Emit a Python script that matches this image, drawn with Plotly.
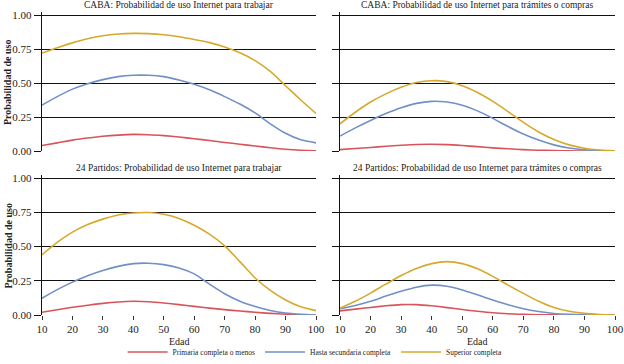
import plotly.graph_objects as go

edad = [10, 15, 20, 25, 30, 35, 40, 45, 50, 55, 60, 65, 70, 75, 80, 85, 90, 95, 100]

series_names = ["Primaria completa o menos", "Hasta secundaria completa", "Superior completa"]
series_colors = ["#d9545a", "#7090c6", "#d6a92c"]

panel_titles = [
    "CABA: Probabilidad de uso Internet para trabajar",
    "CABA: Probabilidad de uso Internet para trámites o compras",
    "24 Partidos: Probabilidad de uso Internet para trabajar",
    "24 Partidos: Probabilidad de uso Internet para trámites o compras",
]

# CABA trabajar
caba_trab_prim = [0.04, 0.06, 0.08, 0.095, 0.108, 0.117, 0.122, 0.12, 0.113, 0.103,
                  0.09, 0.077, 0.063, 0.05, 0.037, 0.024, 0.013, 0.006, 0.002]
caba_trab_sec = [0.337, 0.40, 0.455, 0.495, 0.525, 0.547, 0.557, 0.557, 0.547, 0.522,
                 0.49, 0.45, 0.40, 0.345, 0.28, 0.20, 0.13, 0.082, 0.06]
caba_trab_sup = [0.72, 0.76, 0.795, 0.825, 0.847, 0.86, 0.865, 0.863, 0.855, 0.84,
                 0.82, 0.797, 0.765, 0.722, 0.665, 0.585, 0.48, 0.375, 0.276]

# CABA trámites
caba_tram_prim = [0.01, 0.018, 0.026, 0.035, 0.042, 0.048, 0.05, 0.047, 0.04, 0.032,
                  0.023, 0.016, 0.01, 0.006, 0.003, 0.001, 0.0, 0.0, 0.0]
caba_tram_sec = [0.11, 0.17, 0.225, 0.275, 0.318, 0.35, 0.365, 0.36, 0.337, 0.295,
                 0.24, 0.18, 0.125, 0.08, 0.045, 0.022, 0.009, 0.003, 0.001]
caba_tram_sup = [0.20, 0.285, 0.36, 0.42, 0.468, 0.503, 0.517, 0.51, 0.48, 0.43,
                 0.365, 0.29, 0.21, 0.14, 0.085, 0.045, 0.02, 0.007, 0.002]

# 24 Partidos trabajar
gba_trab_prim = [0.02, 0.038, 0.056, 0.071, 0.085, 0.095, 0.10, 0.097, 0.088, 0.076,
                 0.063, 0.05, 0.039, 0.029, 0.02, 0.012, 0.006, 0.002, 0.0]
gba_trab_sec = [0.122, 0.185, 0.24, 0.287, 0.325, 0.355, 0.375, 0.378, 0.368, 0.343,
                0.30, 0.225, 0.155, 0.10, 0.062, 0.033, 0.014, 0.005, 0.0]
gba_trab_sup = [0.44, 0.53, 0.605, 0.66, 0.70, 0.73, 0.745, 0.748, 0.735, 0.705,
                0.655, 0.59, 0.505, 0.39, 0.27, 0.18, 0.11, 0.06, 0.032]

# 24 Partidos trámites
gba_tram_prim = [0.03, 0.043, 0.055, 0.067, 0.076, 0.076, 0.067, 0.054, 0.04, 0.027,
                 0.016, 0.009, 0.005, 0.002, 0.001, 0.0, 0.0, 0.0, 0.0]
gba_tram_sec = [0.045, 0.07, 0.10, 0.138, 0.173, 0.203, 0.218, 0.21, 0.183, 0.147,
                0.11, 0.075, 0.046, 0.025, 0.011, 0.005, 0.002, 0.0, 0.0]
gba_tram_sup = [0.05, 0.10, 0.16, 0.225, 0.288, 0.34, 0.375, 0.39, 0.375, 0.337,
                0.282, 0.218, 0.158, 0.10, 0.055, 0.027, 0.012, 0.004, 0.0]

panels = [
    [caba_trab_prim, caba_trab_sec, caba_trab_sup],
    [caba_tram_prim, caba_tram_sec, caba_tram_sup],
    [gba_trab_prim, gba_trab_sec, gba_trab_sup],
    [gba_tram_prim, gba_tram_sec, gba_tram_sup],
]

y_ticks = [0, 0.25, 0.5, 0.75, 1.0]
y_ticklabels = ["0.00", "0.25", "0.50", "0.75", "1.00"]
x_ticks = [10, 20, 30, 40, 50, 60, 70, 80, 90, 100]
x_title = "Edad"
y_title = "Probabilidad de uso"

W, H = 624, 364
FONT = "Liberation Serif, Times New Roman, DejaVu Serif, serif"

# pixel layout
xdoms = [(42, 316), (340, 615)]
ydoms = [(11.6, 151), (174.6, 315)]  # top px, bottom px


def xd(a, b):
    return [a / W, b / W]


def yd(top, bot):
    return [1 - bot / H, 1 - top / H]


fig = go.Figure()
for i, pdata in enumerate(panels):
    r, c = divmod(i, 2)
    ax = "" if i == 0 else str(i + 1)
    for k, vals in enumerate(pdata):
        fig.add_trace(go.Scatter(
            x=edad, y=vals, mode="lines",
            line=dict(color=series_colors[k], width=1.6, shape="spline", smoothing=0.7),
            name=series_names[k], showlegend=(i == 0),
            xaxis="x" + ax, yaxis="y" + ax,
        ))
    xa = dict(domain=xd(*xdoms[c]), range=[10, 100], anchor="y" + ax,
              showgrid=False, zeroline=False, showline=False, automargin=False,
              tickvals=x_ticks, showticklabels=(r == 1),
              tickfont=dict(family=FONT, size=11, color="#222"),
              ticks=("outside" if r == 1 else ""), ticklen=4, tickwidth=1, tickcolor="#333")
    ya = dict(domain=yd(*ydoms[r]), range=[0, 1.025], anchor="x" + ax,
              showgrid=True, gridcolor="#111", gridwidth=1.4, zeroline=False,
              showline=True, linecolor="#111", linewidth=1.4, automargin=False,
              tickvals=y_ticks, ticktext=y_ticklabels, ticks="outside", ticklen=7,
              tickcolor="#111", tickwidth=1.4,
              showticklabels=(c == 0),
              tickfont=dict(family=FONT, size=11, color="#222"))
    fig.layout["xaxis" + ax] = xa
    fig.layout["yaxis" + ax] = ya
    cx = (xdoms[c][0] + xdoms[c][1]) / 2 / W
    ty = 1 - (5 if r == 0 else 168) / H
    fig.add_annotation(text=panel_titles[i], x=cx, y=ty, xref="paper", yref="paper",
                       xanchor="center", yanchor="middle", showarrow=False,
                       font=dict(family=FONT, size=9.5, color="#222"))
    if r == 1:
        fig.add_annotation(text=x_title, x=cx, y=1 - 341 / H, xref="paper", yref="paper",
                           xanchor="center", yanchor="middle", showarrow=False,
                           font=dict(family=FONT, size=10, color="#222"))
    if c == 0:
        cy = 1 - ((ydoms[r][0] + 3.4 + ydoms[r][1]) / 2) / H
        fig.add_annotation(text="<b>" + y_title + "</b>", x=8 / W, y=cy, xref="paper", yref="paper",
                           xanchor="center", yanchor="middle", showarrow=False, textangle=-90,
                           font=dict(family=FONT, size=10, color="#222"))

fig.update_layout(
    width=W, height=H,
    margin=dict(l=0, r=0, t=0, b=0, autoexpand=False),
    paper_bgcolor="white", plot_bgcolor="white",
    font=dict(family=FONT),
    legend=dict(orientation="h", x=0.505, xanchor="center", y=1 - 352 / H, yanchor="middle",
                font=dict(family=FONT, size=7.5, color="#222"), itemwidth=40,
                bgcolor="rgba(0,0,0,0)"),
)

fig.write_html("out.html", config={"displayModeBar": False},
               post_script="document.body.style.margin='0px';")
